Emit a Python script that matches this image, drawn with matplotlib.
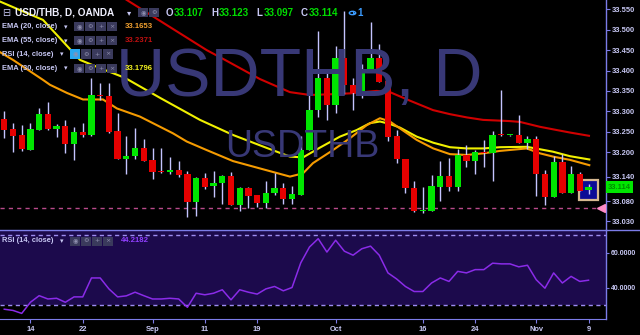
import numpy as np
import matplotlib
matplotlib.use("Agg")
import matplotlib.pyplot as plt
from matplotlib.patches import Rectangle, Circle
from matplotlib.lines import Line2D

plt.rcParams['font.family'] = ['Liberation Sans', 'DejaVu Sans']

# ---------------- data ----------------
opens = [33.281, 33.257, 33.241, 33.206, 33.255, 33.293, 33.257, 33.263, 33.221, 33.249,
         33.243, 33.340, 33.338, 33.252, 33.183, 33.190, 33.209, 33.181, 33.154, 33.151,
         33.157, 33.147, 33.078, 33.137, 33.116, 33.124, 33.141, 33.070, 33.111, 33.094,
         33.076, 33.099, 33.112, 33.084, 33.096, 33.205, 33.303, 33.382, 33.315, 33.431,
         33.365, 33.344, 33.400, 33.431, 33.374, 33.240, 33.183, 33.113, 33.055, 33.056,
         33.115, 33.141, 33.115, 33.192, 33.178, 33.200, 33.197, 33.243, 33.241, 33.242,
         33.223, 33.232, 33.147, 33.089, 33.176, 33.101, 33.147, 33.107]
highs = [33.301, 33.271, 33.266, 33.271, 33.309, 33.323, 33.269, 33.278, 33.262, 33.271,
         33.382, 33.369, 33.369, 33.295, 33.240, 33.259, 33.231, 33.210, 33.209, 33.187,
         33.178, 33.153, 33.138, 33.150, 33.154, 33.144, 33.151, 33.114, 33.115, 33.095,
         33.129, 33.148, 33.125, 33.117, 33.240, 33.340, 33.497, 33.404, 33.460, 33.546,
         33.382, 33.415, 33.519, 33.466, 33.389, 33.253, 33.184, 33.128, 33.115, 33.144,
         33.178, 33.186, 33.208, 33.217, 33.205, 33.230, 33.252, 33.352, 33.243, 33.291,
         33.240, 33.240, 33.156, 33.191, 33.195, 33.166, 33.151, 33.123]
lows = [33.235, 33.200, 33.203, 33.205, 33.254, 33.255, 33.236, 33.199, 33.180, 33.236,
        33.240, 33.328, 33.248, 33.182, 33.147, 33.184, 33.178, 33.135, 33.150, 33.146,
        33.138, 33.040, 33.044, 33.110, 33.091, 33.072, 33.070, 33.056, 33.064, 33.066,
        33.064, 33.095, 33.073, 33.073, 33.095, 33.204, 33.287, 33.279, 33.295, 33.342,
        33.302, 33.332, 33.399, 33.372, 33.228, 33.173, 33.099, 33.052, 33.050, 33.055,
        33.081, 33.105, 33.105, 33.164, 33.146, 33.163, 33.128, 33.240, 33.240, 33.222,
        33.207, 33.092, 33.070, 33.089, 33.100, 33.100, 33.105, 33.097]
closes = [33.255, 33.240, 33.207, 33.256, 33.293, 33.256, 33.263, 33.221, 33.249, 33.243,
          33.340, 33.338, 33.250, 33.183, 33.191, 33.209, 33.179, 33.152, 33.151, 33.157,
          33.145, 33.078, 33.137, 33.115, 33.125, 33.141, 33.070, 33.113, 33.093, 33.076,
          33.101, 33.112, 33.084, 33.097, 33.205, 33.303, 33.382, 33.315, 33.431, 33.365,
          33.344, 33.401, 33.431, 33.373, 33.238, 33.182, 33.111, 33.056, 33.058, 33.117,
          33.141, 33.115, 33.192, 33.178, 33.200, 33.198, 33.242, 33.241, 33.243, 33.223,
          33.232, 33.146, 33.089, 33.176, 33.101, 33.147, 33.105, 33.114]

rsi = [27.5, 26.8, 25.1, 31.5, 35.3, 33.4, 33.8, 31.5, 34.6, 34.6,
       45.5, 45.5, 39.2, 34.6, 35.2, 37.3, 35.3, 33.4, 33.4, 33.8,
       33.4, 28.6, 36.7, 35.8, 36.7, 38.7, 32.9, 38.7, 37.3, 36.2,
       39.2, 40.6, 38.1, 40.0, 54.2, 63.3, 68.1, 60.4, 67.2, 60.9,
       58.6, 62.3, 63.8, 58.6, 48.4, 44.9, 40.6, 37.7, 37.7, 42.6,
       45.5, 43.5, 49.3, 48.4, 50.3, 50.3, 54.0, 53.6, 53.6, 51.9,
       52.8, 44.5, 39.6, 48.4, 42.6, 46.4, 43.5, 44.2]

ema30_x = [-0.49, 4.44, 8.68, 10.97, 13.84, 17.86, 22.44, 26.23, 30.13, 32.76, 34.26, 36.2,
           38.5, 40.41, 41.94, 43.08, 44.23, 45.38, 47.29, 49.2, 51.11, 53.03, 54.93, 56.85,
           59.91, 61.43, 62.93, 64.87, 67.09]
ema30_y = [33.569, 33.524, 33.426, 33.406, 33.382, 33.333, 33.279, 33.242, 33.210, 33.189,
           33.187, 33.211, 33.238, 33.254, 33.271, 33.275, 33.269, 33.260, 33.238, 33.223,
           33.212, 33.209, 33.209, 33.212, 33.213, 33.207, 33.201, 33.190, 33.182]
ema20_x = [-0.49, 1.0, 4.44, 5.24, 7.19, 9.03, 11.32, 12.92, 15.56, 19.35, 20.92, 23.21,
           26.23, 29.32, 32.76, 34.26, 35.4, 37.7, 39.64, 41.56, 43.08, 44.23, 45.38, 47.29,
           49.2, 51.11, 53.03, 54.93, 56.85, 59.91, 61.43, 62.93, 64.87, 67.09]
ema20_y = [33.445, 33.426, 33.377, 33.365, 33.345, 33.329, 33.329, 33.307, 33.287, 33.246,
           33.226, 33.205, 33.178, 33.160, 33.140, 33.148, 33.173, 33.205, 33.234, 33.266,
           33.283, 33.275, 33.258, 33.230, 33.209, 33.195, 33.193, 33.197, 33.203, 33.209,
           33.197, 33.189, 33.181, 33.168]
ema55_x = [10.97, 14.04, 23.21, 25.31, 29.32, 32.76, 35.06, 37.7, 39.64, 42.71, 44.23,
           46.53, 49.16, 51.11, 53.06, 54.9, 57.99, 59.14, 61.43, 63.38, 64.87, 67.05]
ema55_y = [33.617, 33.573, 33.450, 33.426, 33.379, 33.347, 33.340, 33.342, 33.344, 33.350,
           33.347, 33.326, 33.303, 33.293, 33.285, 33.279, 33.276, 33.274, 33.262, 33.254,
           33.248, 33.240]

alert_level = 33.062
price_ticks = [33.030, 33.080, 33.140, 33.200, 33.250, 33.300, 33.350, 33.400, 33.450, 33.500, 33.550]
rsi_ticks = [40, 60]
date_ticks = [3, 9, 17, 23, 29, 38, 48, 54, 61, 67]
date_labels = ['14', '22', 'Sep', '11', '19', 'Oct', '16', '24', 'Nov', '9']
legend_vals = {'ema20': '33.1653', 'ema55': '33.2371', 'ema30': '33.1796', 'rsi': '44.2182'}

# ---------------- style ----------------
W, H = 640, 335
BG = '#000000'
AXC = '#7c7ce8'
TXT = '#c8c8f4'
GREEN = '#00e600'
RED = '#e60000'
WICK = '#c4c4ff'
WM = '#383876'

fig = plt.figure(figsize=(6.4, 3.35), dpi=100, facecolor=BG)


def fx(x):
    return x / W


def fy(y):
    return 1 - y / H


main_top, main_bot, rsi_bot, ax_right = 0, 230, 319.3, 605.7
ax = fig.add_axes([0, fy(main_bot), fx(ax_right), (main_bot - main_top) / H])
rax = fig.add_axes([0, fy(rsi_bot), fx(ax_right), (rsi_bot - main_bot) / H])
for a in (ax, rax):
    a.set_facecolor(BG)
    for s in a.spines.values():
        s.set_visible(False)
    a.spines['right'].set_visible(True)
    a.spines['right'].set_color(AXC)
    a.spines['right'].set_linewidth(1.0)
rax.spines['bottom'].set_visible(True)
rax.spines['bottom'].set_color(AXC)

n = len(opens)
idx = np.arange(n)
o = np.array(opens); c = np.array(closes); hi = np.array(highs); lo = np.array(lows)

# watermark
fig.text(fx(299), fy(78), 'USDTHB, D', fontsize=49, color=WM, ha='center', va='center',
         family='Liberation Sans', zorder=0)
fig.text(fx(302), fy(147), 'USDTHB', fontsize=27, color=WM, ha='center', va='center',
         family='Liberation Sans', zorder=0)

# EMA lines
ax.plot(ema55_x, ema55_y, color='#d00000', lw=1.5, zorder=2.5)
ax.plot(ema30_x, ema30_y, color='#f0f000', lw=1.5, zorder=2.5)
ax.plot(ema20_x, ema20_y, color='#f59b00', lw=1.5, zorder=2.5)

# alert line
ax.axhline(alert_level, color='#b84a8a', lw=1.0, ls=(0, (3, 3)), zorder=1)
ax.plot([n + 0.45], [alert_level], marker='<', color='#ff8cc8', ms=6, clip_on=False, zorder=5)

# selection box around the last candle
ax.add_patch(Rectangle((idx[-1] - 1.1, 33.0826), 2.2, 0.049, facecolor='#0c0c96',
                       edgecolor='#d6b890', lw=1.6, zorder=2.8))

# candles
cols = np.where(c >= o, GREEN, RED)
bottom = np.minimum(o, c)
height = np.maximum(np.abs(c - o), 0.0028)
ax.vlines(idx, lo, hi, color=WICK, lw=1.0, zorder=3)
ax.bar(idx, height, width=0.72, bottom=bottom, color=cols, zorder=4, linewidth=0)

ax.set_xlim(-0.49, 68.97)
ax.set_ylim(33.0091, 33.5728)
ax.set_xticks([])
ax.yaxis.tick_right()
ax.set_yticks(price_ticks)
ax.set_yticklabels([f'{v:.3f}' for v in price_ticks])
ax.tick_params(axis='y', colors=AXC, labelcolor=TXT, labelsize=5.4, length=3, width=0.8, pad=1.5)
for lab in ax.get_yticklabels():
    lab.set_fontweight('bold')

# last price label
ax.text(1.004, closes[-1], f'{closes[-1]:.3f}', transform=ax.get_yaxis_transform(),
        fontsize=5.4, color='#008c00', fontweight='bold', va='center', ha='left', clip_on=False,
        bbox=dict(boxstyle='square,pad=0.3', fc=GREEN, ec='none'), zorder=6)

# RSI panel
rax.set_xlim(-0.49, 68.97)
rax.set_ylim(21.7, 73.1)
rax.axhspan(30, 73.1, color='#1c0a4c', zorder=0, lw=0)
rax.axhline(70, color='#9c8cf0', lw=1.0, ls=(0, (3, 2.5)), zorder=1)
rax.axhline(30, color='#9c8cf0', lw=1.0, ls=(0, (3, 2.5)), zorder=1)
rax.plot(idx, rsi, color='#8a2be8', lw=1.1, zorder=3)
rax.yaxis.tick_right()
rax.set_yticks(rsi_ticks)
rax.set_yticklabels([f'{v:.4f}' for v in rsi_ticks])
rax.tick_params(axis='y', colors=AXC, labelcolor=TXT, labelsize=5.0, length=2.5, width=0.8, pad=1.2)
rax.set_xticks(date_ticks)
rax.set_xticklabels(date_labels)
rax.tick_params(axis='x', colors=AXC, labelcolor=TXT, labelsize=5.4, length=3, width=0.8, pad=1.5)
for lab in rax.get_yticklabels() + rax.get_xticklabels():
    lab.set_fontweight('bold')

# separator line across full width
fig.add_artist(Line2D([0, 1], [fy(230), fy(230)], color=AXC, lw=1.0, transform=fig.transFigure))


# ---------------- legend texts ----------------
def icons(x0, yc, k, first=None):
    for i in range(k):
        fc = '#3a3a5c'
        if i == 0 and first:
            fc = first
        fig.add_artist(Rectangle((fx(x0 + i * 11), fy(yc + 4.5)), 10 / W, 9 / H, facecolor=fc,
                                 edgecolor='none', transform=fig.transFigure, zorder=5))
        sym = ['◉', '⚙', '+', '×'][i]
        fig.text(fx(x0 + i * 11 + 5), fy(yc), sym, fontsize=4.5, color='#9090b0', ha='center',
                 va='center', family=['DejaVu Sans'], zorder=6)


fig.text(fx(2), fy(12.5), '⊟', fontsize=7, color=TXT, va='center', ha='left',
         family=['DejaVu Sans'])
fig.text(fx(15), fy(12.5), 'USD/THB, D, OANDA', fontsize=7.2, color='#f0f0ff',
         fontweight='bold', va='center', ha='left')
fig.text(fx(127), fy(12.5), '▾', fontsize=6, color=TXT, va='center', ha='left',
         family=['DejaVu Sans'])
icons(138, 12.5, 2)
xo = 166
for letter, val in zip('OHLC', [opens[-1], highs[-1], lows[-1], closes[-1]]):
    fig.text(fx(xo), fy(12.5), letter, fontsize=7, color=TXT, fontweight='bold', va='center')
    fig.text(fx(xo + 7.5), fy(12.5), f'{val:.3f}', fontsize=7, color='#00dd00',
             fontweight='bold', va='center')
    xo += 45
# alarm clock icon (no installed family has the glyph, so drawn as a small shape)
fig.add_artist(Circle((fx(352.5), fy(13)), 3.2 / W, transform=fig.transFigure, fill=False,
                      edgecolor='#3c9cff', lw=1.0))
fig.add_artist(Line2D([fx(352.5), fx(352.5), fx(354.5)], [fy(11), fy(13), fy(13)],
                      color='#3c9cff', lw=0.8, transform=fig.transFigure))
fig.text(fx(357), fy(12.5), '1', fontsize=7, color='#3c9cff', fontweight='bold', va='center')

rows = [('EMA (20, close)', 26.7, legend_vals['ema20'], '#f0a030', None, 74),
        ('EMA (55, close)', 40.7, legend_vals['ema55'], '#c01010', None, 74),
        ('RSI (14, close)', 54.0, None, None, '#2aa8f0', 70),
        ('EMA (30, close)', 68.3, legend_vals['ema30'], '#f0f020', None, 74)]
for label, yc, val, vc, first, ix in rows:
    fig.text(fx(2), fy(yc), label, fontsize=5.4, color=TXT, fontweight='bold',
             va='center', ha='left')
    fig.text(fx(ix - 10), fy(yc), '▾', fontsize=5, color=TXT, va='center', ha='left',
             family=['DejaVu Sans'])
    icons(ix, yc, 4, first)
    if val:
        fig.text(fx(125), fy(yc), val, fontsize=5.6, color=vc, fontweight='bold', va='center')

fig.text(fx(2), fy(241), 'RSI (14, close)', fontsize=5.4, color=TXT, fontweight='bold',
         va='center', ha='left')
fig.text(fx(60), fy(241), '▾', fontsize=5, color=TXT, va='center', ha='left',
         family=['DejaVu Sans'])
icons(70, 241, 4)
fig.text(fx(121), fy(241), legend_vals['rsi'], fontsize=5.6, color='#9040ff',
         fontweight='bold', va='center')

fig.savefig('out.png', dpi=100, facecolor=BG)
